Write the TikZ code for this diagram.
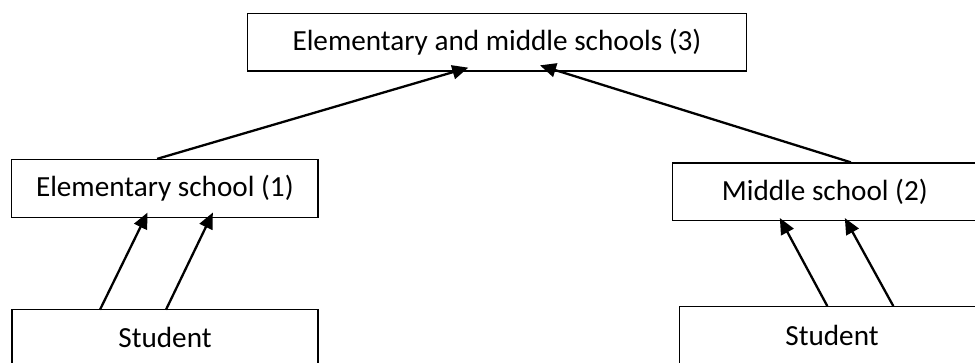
\documentclass[tikz,border=0pt]{standalone}
\usepackage{fontspec}
\setmainfont{Carlito}
\usetikzlibrary{arrows.meta,calc}
\begin{document}
\begin{tikzpicture}[x=1pt,y=-1pt,
  box/.style={draw=black,line width=1.3pt,rectangle,inner sep=0pt,
    font=\fontsize{29.2}{34}\selectfont},
  conn/.style={line width=2.3pt,-{Triangle[length=16pt,width=14pt]}}]
\useasboundingbox (0,0) rectangle (975,362);
\clip (0,0) rectangle (975,362);
\node[box,minimum width=499pt,minimum height=57.3pt] (top) at (497,42.35) {Elementary and middle schools (3)};
\node[box,minimum width=306.3pt,minimum height=57.8pt] (elem) at (164.85,188.4) {Elementary school (1)};
\node[box,minimum width=304.3pt,minimum height=57.7pt] (mid) at (824.85,191.85) {Middle school (2)};
\node[box,minimum width=306pt,minimum height=56.4pt] (studL) at (165,337.5) {Student};
\node[box,minimum width=305.4pt,minimum height=58pt] (studR) at (832,335.7) {Student};
\draw[conn] ([xshift=-7.7pt]elem.north) -- ([xshift=-28.7pt,yshift=4pt]top.south);
\draw[conn] ([xshift=26pt]mid.north) -- ([xshift=43pt,yshift=6.3pt]top.south);
\draw[conn] ([xshift=-65pt,yshift=-1pt]studL.north) -- ([xshift=-17.3pt,yshift=5.4pt]elem.south);
\draw[conn] ([xshift=1pt,yshift=-1pt]studL.north) -- ([xshift=48pt,yshift=5.4pt]elem.south);
\draw[conn] ([xshift=-4.7pt]studR.north) -- ([xshift=-45pt,yshift=3.3pt]mid.south);
\draw[conn] ([xshift=61.3pt]studR.north) -- ([xshift=20pt,yshift=3.3pt]mid.south);
\end{tikzpicture}
\end{document}
